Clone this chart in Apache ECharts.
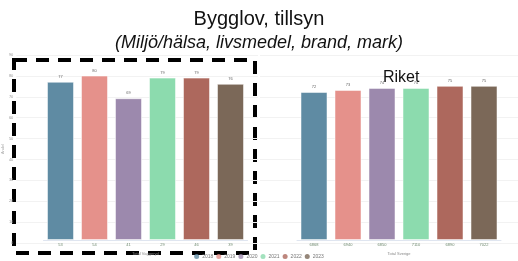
<!DOCTYPE html>
<html>
<head>
<meta charset="utf-8">
<script src="https://cdn.jsdelivr.net/npm/echarts@6/dist/echarts.min.js"></script>
<style>
  html, body { margin: 0; padding: 0; background: #fff; }
  #chart { width: 518px; height: 261px; }
</style>
</head>
<body>
<div id="chart"></div>
<script>
// data
const years = ['2018', '2019', '2020', '2021', '2022', '2023']
const colors = ['#5f8ba3', '#e5918b', '#9c89ad', '#8cdbae', '#ad685d', '#7b6858']
const localCounts = ['53', '54', '41', '29', '46', '39']
const localValues = [77, 80, 69, 79, 79, 76]
const rikeCounts = ['6868', '6940', '6850', '7110', '6890', '7022']
const rikeValues = [72, 73, 74, 74, 75, 75]
const yTicks = [0, 10, 20, 30, 40, 50, 60, 70, 80, 90]

const chart = echarts.init(document.getElementById('chart'))

const gridTop = 55, gridBottom = 18
const yMax = yTicks[yTicks.length - 1]

function barData(values) {
  return values.map((v, i) => ({
    value: v,
    itemStyle: { color: colors[i] }
  }))
}

function catAxis(idx, names, axisName) {
  return {
    type: 'category', gridIndex: idx, data: names,
    axisTick: { show: false },
    axisLine: { show: true, lineStyle: { color: '#dfe5f0' } },
    axisLabel: { color: '#6f8a6f', fontSize: 4, margin: 3 },
    name: axisName, nameLocation: 'middle', nameGap: 6,
    nameTextStyle: { color: '#8a8a8a', fontSize: 4 }
  }
}

function valAxis(idx, showLabels, showSplit) {
  return {
    type: 'value', gridIndex: idx, min: 0, max: yMax, interval: 10,
    axisLine: { show: false }, axisTick: { show: false },
    axisLabel: { show: showLabels, color: '#999', fontSize: 4, margin: 3 },
    splitLine: { show: showSplit, lineStyle: { color: '#f2f2f2', width: 1 } }
  }
}

function barSeries(idx, values) {
  return {
    type: 'bar', xAxisIndex: idx, yAxisIndex: idx,
    data: barData(values), barWidth: 27,
    itemStyle: { borderColor: 'rgba(255,255,255,0.5)', borderWidth: 1 },
    label: { show: true, position: 'top', distance: 3, color: '#666', fontSize: 4 }
  }
}

const option = {
  animation: false,
  title: [
    {
      text: 'Bygglov, tillsyn', left: 'center', top: 4,
      textStyle: { fontFamily: 'Liberation Sans', fontWeight: 'normal', fontSize: 20, color: '#111' }
    },
    {
      text: '(Miljö/hälsa, livsmedel, brand, mark)', left: 'center', top: 29,
      textStyle: { fontFamily: 'Liberation Sans', fontWeight: 'normal', fontStyle: 'italic', fontSize: 18, color: '#111' }
    },
    {
      text: 'Riket', left: 378, top: 65,
      textStyle: { fontFamily: 'Liberation Sans', fontWeight: 'normal', fontSize: 16, color: '#111' }
    }
  ],
  legend: {
    bottom: -3, left: 'center', icon: 'circle', itemWidth: 5, itemHeight: 5, itemGap: 3,
    textStyle: { color: '#777', fontSize: 5, padding: [0, 0, 0, -2] },
    data: years
  },
  grid: [
    // gridlines + y labels, left chart
    { left: 16, right: 260, top: gridTop, bottom: gridBottom },
    // bars, left chart
    { left: 43.5, width: 204, top: gridTop, bottom: gridBottom },
    // gridlines, right chart
    { left: 260, right: 0, top: gridTop, bottom: gridBottom },
    // bars, right chart
    { left: 297, width: 204, top: gridTop, bottom: gridBottom }
  ],
  xAxis: [
    { type: 'value', gridIndex: 0, show: false },
    catAxis(1, localCounts, 'Total Vaggeryd'),
    { type: 'value', gridIndex: 2, show: false },
    catAxis(3, rikeCounts, 'Total Sverige')
  ],
  yAxis: [
    Object.assign(valAxis(0, true, true), {
      name: 'Andel', nameLocation: 'middle', nameGap: 9,
      nameTextStyle: { color: '#aaa', fontSize: 4 }
    }),
    valAxis(1, false, false),
    valAxis(2, false, true),
    valAxis(3, false, false)
  ],
  series: [
    barSeries(1, localValues),
    barSeries(3, rikeValues)
  ].concat(years.map((y, i) => ({
    // legend entries only
    name: y, type: 'scatter', xAxisIndex: 0, yAxisIndex: 0,
    data: [], itemStyle: { color: colors[i] }
  }))),
  graphic: [
    {
      type: 'rect', silent: true,
      shape: { x: 14, y: 60, width: 241, height: 193 },
      style: { fill: 'none', stroke: '#000', lineWidth: 4, lineDash: [13, 9] }
    }
  ]
}

chart.setOption(option)
</script>
</body>
</html>
